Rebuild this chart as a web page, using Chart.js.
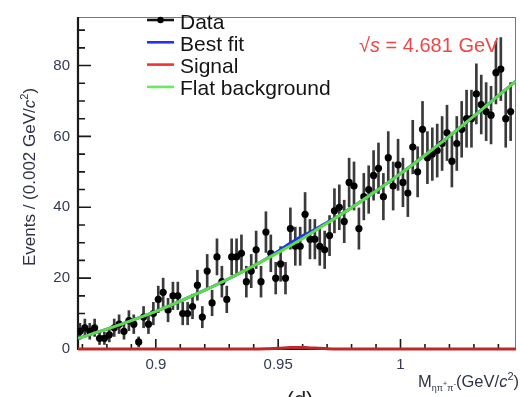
<!DOCTYPE html>
<html>
<head>
<meta charset="utf-8">
<script src="https://cdn.jsdelivr.net/npm/chart.js@4.4.1/dist/chart.umd.min.js"></script>
<style>
  html, body { margin:0; padding:0; background:#fff; }
  #wrap { position:relative; width:520px; height:397px; }
</style>
</head>
<body>
<div id="wrap"><canvas id="massChart" width="520" height="397"></canvas></div>
<script>
// ─── data ──────────────────────────────────────────────────────────────────
// bin centres, GeV/c^2 (0.002 wide)
const massBins = [0.869,0.871,0.873,0.875,0.877,0.879,0.881,0.883,0.885,0.887,
  0.889,0.891,0.893,0.895,0.897,0.899,0.901,0.903,0.905,0.907,0.909,0.911,0.913,
  0.915,0.917,0.919,0.921,0.923,0.925,0.927,0.929,0.931,0.933,0.935,0.937,0.939,
  0.941,0.943,0.945,0.947,0.949,0.951,0.953,0.955,0.957,0.959,0.961,0.963,0.965,
  0.967,0.969,0.971,0.973,0.975,0.977,0.979,0.981,0.983,0.985,0.987,0.989,0.991,
  0.993,0.995,0.997,0.999,1.001,1.003,1.005,1.007,1.009,1.011,1.013,1.015,1.017,
  1.019,1.021,1.023,1.025,1.027,1.029,1.031,1.033,1.035,1.037,1.039,1.041,1.043,1.045];
const counts = [5,6,5,6,3,3,4,6,7,5, 8,7,2,9,7,10,14,16,11,15,
  15,10,10,12,18,9,22,13,26,19, 14,26,26,27,19,22,28,19,33,27,
  20,24,20,34,29,29,38,31,31,29, 28,32,39,40,36,47,46,34,43,45,
  49,51,43,54,46,52,47,44,57,50, 62,54,55,56,58,61,53,58,62,65,
  65,72,69,67,66,78,79,65,67];

// fitted curves
const bkgX = [0.8682,0.88,0.89,0.90,0.91,0.92,0.93,0.94,0.95,0.96,0.97,0.98,0.99,1.00,1.01,1.02,1.03,1.04,1.0472];
const bkgY = [3.0,5.6,8.0,10.6,13.5,16.6,19.9,23.5,27.2,31.2,35.5,39.9,44.6,49.5,54.7,60.1,65.7,71.5,75.6];
const fitX = [0.8682,0.88,0.89,0.90,0.91,0.92,0.93,0.94,0.945,0.95,0.955,0.958,0.961,0.965,0.97,0.975,0.98,0.99,1.00,1.01,1.02,1.03,1.04,1.0472];
const fitY = [3.0,5.6,8.0,10.6,13.5,16.6,19.9,23.5,25.4,27.6,29.9,31.2,32.3,33.7,35.7,37.7,39.9,44.6,49.5,54.7,60.1,65.7,71.5,75.6];
const sigX = [0.8682,0.94,0.945,0.95,0.955,0.958,0.961,0.965,0.97,0.975,0.98,1.0472];
const sigY = [0,0,0.05,0.2,0.4,0.45,0.4,0.25,0.1,0.02,0,0];

// axes
const X_MIN = 0.8682, X_MAX = 1.0472, Y_MIN = 0, Y_MAX = 93.7;
const xTickVals = [0.9, 0.95, 1];
const xTickLabels = ['0.9', '0.95', '1'];
const xMinorTicks = [0.87,0.88,0.89,0.9,0.91,0.92,0.93,0.94,0.95,0.96,0.97,0.98,0.99,1,1.01,1.02,1.03,1.04];
const yTickVals = [0, 20, 40, 60, 80];
const yMinorTicks = [0,5,10,15,20,25,30,35,40,45,50,55,60,65,70,75,80,85,90];

const legendLabels = ['Data', 'Best fit', 'Signal', 'Flat background'];
const legendColors = ['#111111', '#2233ee', '#ee3333', '#66ee55'];

const FONT = '"Liberation Sans", Arial, Helvetica, sans-serif';
const C_BLUE = '#2233ee', C_RED = '#ee3333', C_GREEN = '#5ddc48';

// draw a run of text pieces [text, size, style, dy] starting at x
function drawRuns(ctx, runs, x, y) {
  for (const [t, size, style, dy] of runs) {
    ctx.font = `${style || ''} ${size}px ${FONT}`;
    ctx.fillText(t, x, y + (dy || 0));
    x += ctx.measureText(t).width;
  }
  return x;
}
function runsWidth(ctx, runs) {
  let w = 0;
  for (const [t, size, style] of runs) {
    ctx.font = `${style || ''} ${size}px ${FONT}`;
    w += ctx.measureText(t).width;
  }
  return w;
}

// ROOT-like frame: inward ticks, box
const framePlugin = {
  id: 'frame',
  beforeDatasetsDraw(chart) {
    const { ctx, chartArea: a, scales: { x, y } } = chart;
    ctx.save();
    ctx.strokeStyle = '#777';
    ctx.lineWidth = 1;
    ctx.beginPath();
    ctx.moveTo(a.left, a.top + 0.5); ctx.lineTo(a.right, a.top + 0.5);
    ctx.moveTo(a.right - 0.5, a.top); ctx.lineTo(a.right - 0.5, a.bottom);
    ctx.stroke();
    ctx.strokeStyle = '#1a1a1a';
    ctx.lineWidth = 1.6;
    ctx.beginPath();
    yMinorTicks.forEach(v => {
      const py = y.getPixelForValue(v);
      const len = yTickVals.includes(v) ? 13 : 7;
      ctx.moveTo(a.left, py); ctx.lineTo(a.left + len, py);
    });
    xMinorTicks.forEach(v => {
      const px = x.getPixelForValue(v);
      const len = xTickVals.some(t => Math.abs(t - v) < 1e-6) ? 10 : 5;
      ctx.moveTo(px, a.bottom); ctx.lineTo(px, a.bottom - len);
    });
    ctx.stroke();
    ctx.lineWidth = 2.2;
    ctx.beginPath();
    ctx.moveTo(a.left, a.top); ctx.lineTo(a.left, a.bottom);
    ctx.lineTo(a.right, a.bottom);
    ctx.stroke();
    ctx.restore();
  },
  afterDraw(chart) {
    const { ctx } = chart;
    ctx.save();
    ctx.fillStyle = '#2e3346';
    ctx.textBaseline = 'alphabetic';

    // y title
    const yRuns = [['Events / (0.002 GeV/', 17], ['c', 17, 'italic'], ['2', 11, '', -7], [')', 17]];
    ctx.save();
    ctx.translate(35, 177);
    ctx.rotate(-Math.PI / 2);
    drawRuns(ctx, yRuns, -runsWidth(ctx, yRuns) / 2, 0);
    ctx.restore();

    // x title
    const xRuns = [['M', 16.5], ['ηπ', 9, '', 4], ['+', 7, '', -1], ['π', 9, '', 4], ['-', 8, '', -1],
      ['(GeV/', 16.5], ['c', 16.5, 'italic'], ['2', 11, '', -7], [')', 16.5]];
    drawRuns(ctx, xRuns, 519 - runsWidth(ctx, xRuns), 387);

    // panel tag, cut by the bottom edge
    ctx.fillStyle = '#222';
    ctx.font = `22px ${FONT}`;
    ctx.textAlign = 'center';
    ctx.fillText('(d)', 300, 407);
    ctx.textAlign = 'left';

    // energy label
    ctx.fillStyle = '#f04646';
    drawRuns(ctx, [['√', 20], ['s', 20, 'italic'], [' = 4.681 GeV', 20]], 359, 52);

    // legend
    legendLabels.forEach((lab, i) => {
      const base = 28.5 + i * 22.3;
      const ly = base - 8.5;
      ctx.strokeStyle = legendColors[i];
      ctx.lineWidth = 2.6;
      ctx.beginPath();
      ctx.moveTo(147, ly); ctx.lineTo(174, ly);
      ctx.stroke();
      if (i === 0) {
        ctx.fillStyle = '#000';
        ctx.beginPath(); ctx.arc(160.5, ly, 3.2, 0, Math.PI * 2); ctx.fill();
      }
      ctx.fillStyle = '#141414';
      ctx.font = `21px ${FONT}`;
      ctx.fillText(lab, 180, base);
    });
    ctx.restore();
  }
};

new Chart(document.getElementById('massChart'), {
  type: 'scatter',
  data: {
    datasets: [
      {
        type: 'bar',
        data: counts.map((n, i) => ({ x: massBins[i], y: [n - Math.sqrt(n), n + Math.sqrt(n)] })),
        backgroundColor: '#3a3a3a',
        barThickness: 2,
        grouped: false,
        order: 5,
      },
      {
        data: counts.map((n, i) => ({ x: massBins[i], y: n })),
        pointRadius: 3.6,
        pointBackgroundColor: '#000',
        pointBorderWidth: 0,
        order: 4,
      },
      {
        type: 'line',
        data: fitX.map((v, i) => ({ x: v, y: fitY[i] })),
        borderColor: C_BLUE, borderWidth: 3, pointRadius: 0,
        cubicInterpolationMode: 'monotone', fill: false, order: 3,
      },
      {
        type: 'line',
        data: bkgX.map((v, i) => ({ x: v, y: bkgY[i] })),
        borderColor: C_GREEN, borderWidth: 3, pointRadius: 0,
        cubicInterpolationMode: 'monotone', fill: false, order: 2,
      },
      {
        type: 'line',
        data: sigX.map((v, i) => ({ x: v, y: sigY[i] })),
        borderColor: '#c02828', borderWidth: 3, pointRadius: 0,
        cubicInterpolationMode: 'monotone', fill: false, clip: false, order: 1,
      },
    ]
  },
  options: {
    responsive: false,
    animation: false,
    events: [],
    layout: { padding: { top: 7, right: 1, left: 0, bottom: 0 } },
    plugins: { legend: { display: false }, tooltip: { enabled: false } },
    scales: {
      x: {
        type: 'linear', min: X_MIN, max: X_MAX, offset: false,
        grid: { display: false, drawTicks: false }, border: { display: false },
        afterBuildTicks: s => { s.ticks = xTickVals.map(v => ({ value: v })); },
        afterFit: s => { s.height = 48; },
        ticks: {
          autoSkip: false, maxRotation: 0, padding: 7, color: '#333b52',
          font: { family: FONT, size: 15 },
          callback: v => xTickLabels[xTickVals.indexOf(v)],
        },
      },
      y: {
        type: 'linear', min: Y_MIN, max: Y_MAX,
        grid: { display: false, drawTicks: false }, border: { display: false },
        afterBuildTicks: s => { s.ticks = yTickVals.map(v => ({ value: v })); },
        afterFit: s => { s.width = 78; },
        ticks: {
          autoSkip: false, padding: 8, color: '#333b52',
          font: { family: FONT, size: 15 },
          callback: v => String(v),
        },
      },
    },
  },
  plugins: [framePlugin],
});
</script>
</body>
</html>
